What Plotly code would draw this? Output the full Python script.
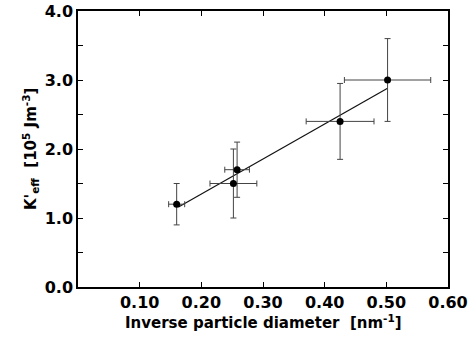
import plotly.graph_objects as go

# Measured points: inverse diameter (nm^-1) vs K'eff (10^5 J/m^3)
inv_diameter = [0.160, 0.252, 0.258, 0.425, 0.502]
k_eff = [1.20, 1.50, 1.70, 2.40, 3.00]
x_err = [0.013, 0.038, 0.020, 0.055, 0.070]
y_err = [0.30, 0.50, 0.40, 0.55, 0.60]

# Linear fit drawn through the data
fit_x = [0.163, 0.502]
fit_y = [1.16, 2.88]

x_ticks = [0.10, 0.20, 0.30, 0.40, 0.50, 0.60]
x_tick_labels = ["0.10", "0.20", "0.30", "0.40", "0.50", "0.60"]
y_ticks = [0.0, 1.0, 2.0, 3.0, 4.0]
y_tick_labels = ["0.0", "1.0", "2.0", "3.0", "4.0"]

FONT = "DejaVu Sans, Arial, sans-serif"
title_font = dict(family=FONT, size=15, color="black", weight="bold")

fig = go.Figure()

fig.add_trace(go.Scatter(
    x=fit_x,
    y=fit_y,
    mode="lines",
    line=dict(color="#111", width=1.2),
    showlegend=False,
))

fig.add_trace(go.Scatter(
    x=inv_diameter,
    y=k_eff,
    mode="markers",
    marker=dict(color="black", size=7),
    error_x=dict(type="data", array=x_err, color="#444", thickness=1, width=3),
    error_y=dict(type="data", array=y_err, color="#444", thickness=1, width=3),
    showlegend=False,
))

axis_common = dict(
    showline=True,
    linecolor="black",
    linewidth=1.5,
    mirror="ticks",
    ticks="inside",
    ticklen=5,
    tickcolor="black",
    showgrid=False,
    zeroline=False,
    automargin=False,
    ticklabeloverflow="allow",
    tickfont=dict(family=FONT, size=16, color="black", weight="bold"),
)

fig.update_xaxes(range=[0, 0.6], tickvals=x_ticks, ticktext=x_tick_labels, **axis_common)
fig.update_yaxes(
    range=[0, 4],
    tickvals=y_ticks,
    ticktext=y_tick_labels,
    minor=dict(dtick=0.5, ticks="inside", ticklen=5, tickcolor="black"),
    **axis_common,
)

# axis titles as annotations so they can sit where the original has them
fig.add_annotation(
    text="Inverse particle diameter  [nm<sup>-1</sup>]",
    xref="paper", yref="paper", x=0.5, y=0,
    xanchor="center", yanchor="middle", yshift=-35,
    showarrow=False, font=title_font,
)
fig.add_annotation(
    text="K'<sub>eff</sub>  [10<sup>5</sup> Jm<sup>-3</sup>]",
    xref="paper", yref="paper", x=0, y=0.5,
    xanchor="center", yanchor="middle", xshift=-48,
    textangle=-90, showarrow=False, font=title_font,
)

fig.update_layout(
    width=475,
    height=338,
    margin=dict(l=78, r=27, t=11, b=51),
    plot_bgcolor="white",
    paper_bgcolor="white",
)

# drop the default page margin so the figure sits at the window origin
fig.write_html("out.html", config={"displayModeBar": False},
               post_script="document.body.style.margin='0';")
